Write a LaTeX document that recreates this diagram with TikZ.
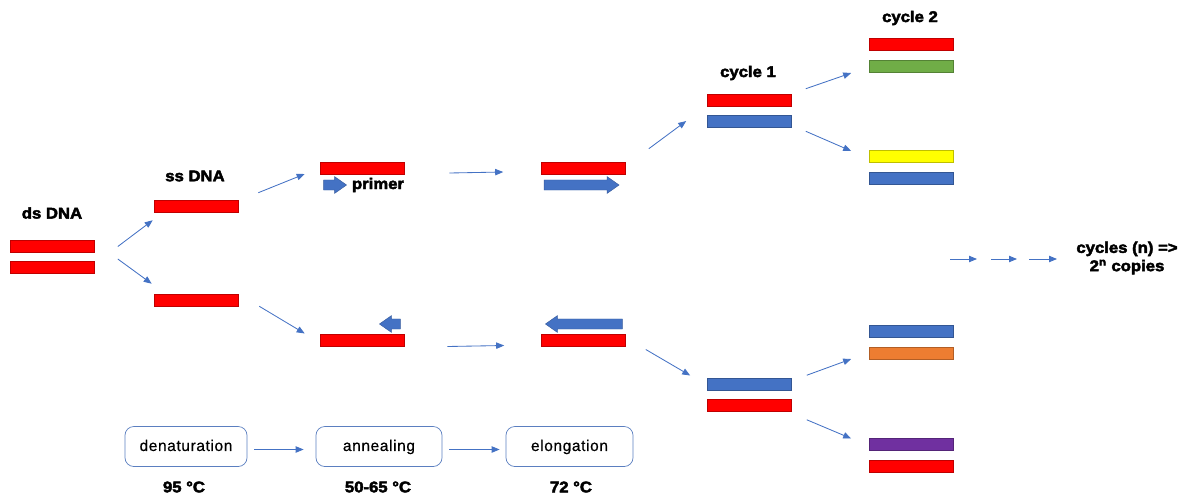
\documentclass[tikz,border=0pt]{standalone}
\usepackage{fontspec}
\setmainfont{Liberation Sans}
\newfontfamily\heavyfont[FakeBold=3,FakeStretch=1.08]{Liberation Sans Bold}
\newfontfamily\stepfont[LetterSpace=4,FakeBold=0.6]{Liberation Sans}
\usetikzlibrary{arrows.meta,shapes.arrows}

\definecolor{dnared}{HTML}{FF0000}
\definecolor{dnablue}{HTML}{4472C4}
\definecolor{dnagreen}{HTML}{70AD47}
\definecolor{dnayellow}{HTML}{FFFF00}
\definecolor{dnaorange}{HTML}{ED7D31}
\definecolor{dnapurple}{HTML}{7030A0}
\definecolor{stepline}{HTML}{5B7FC0}

\tikzset{
    bar/.style={draw=#1!75!black, fill=#1, line width=0.4pt, minimum width=2.1cm, minimum height=0.3cm, inner sep=0pt},
    strand/.style={single arrow, fill=dnablue, draw=dnablue!80!black, line width=0.3pt, inner xsep=0pt, inner ysep=0.12cm, single arrow head extend=0.085cm, single arrow tip angle=70, minimum height=#1},
    flow/.style={draw=dnablue, line width=0.6pt, -{Triangle[length=0.2cm,width=0.16cm]}},
    lbl/.style={font=\heavyfont\fontsize{11}{13}\selectfont, inner sep=0pt},
    stepbox/.style={draw=stepline, rounded corners=0.22cm, line width=0.5pt, minimum height=1.0cm, inner sep=0pt, text height=1.6ex, text depth=0.4ex, font=\stepfont\fontsize{11}{13}\selectfont}
}

\begin{document}
\begin{tikzpicture}[x=0.025cm, y=-0.025cm]
        \useasboundingbox (0,0) rectangle (1185,495);
        % double strand and single strands
        \node[bar=dnared] (dsA) at (52.5,246.5) {};
        \node[bar=dnared] (dsB) at (52.5,267) {};
        \node[lbl] (dsT) at (52,213) {ds DNA};
        \node[bar=dnared] (ssA) at (196,206) {};
        \node[bar=dnared] (ssB) at (196,300) {};
        \node[lbl] (ssT) at (195,176) {ss DNA};

        % annealing of primers
        \node[bar=dnared] (anA) at (362,168) {};
        \node[strand=0.575cm] (prA) at (331.5,185) {};
        \node[lbl] (prT) at (378,185) {primer};
        \node[bar=dnared] (anB) at (362,340.5) {};
        \node[strand=0.525cm, shape border rotate=180] (prB) at (393.5,324) {};

        % elongation
        \node[bar=dnared] (elA) at (583.5,168) {};
        \node[strand=1.875cm] (exA) at (578,185) {};
        \node[bar=dnared] (elB) at (583.5,340.5) {};
        \node[strand=1.925cm, shape border rotate=180] (exB) at (587.5,324) {};

        % cycle 1
        \node[lbl] (cyA) at (748,73) {cycle 1};
        \node[bar=dnared] (c1A) at (749.5,100) {};
        \node[bar=dnablue] (c1B) at (749.5,121) {};
        \node[bar=dnablue] (c1C) at (749.5,384.5) {};
        \node[bar=dnared] (c1D) at (749.5,405.5) {};

        % cycle 2
        \node[lbl] (cyB) at (910,18) {cycle 2};
        \foreach \nm/\yy/\col in {c2A/44.5/dnared, c2B/66/dnagreen, c2C/156/dnayellow, c2D/178/dnablue,
                                  c2E/331/dnablue, c2F/353/dnaorange, c2G/444.5/dnapurple, c2H/466/dnared}
        {
            \node[bar=\col] (\nm) at (911.5,\yy) {};
        }

        \node[lbl, align=center] (cyN) at (1127,258) {cycles (n) =>\\2\textsuperscript{n} copies};
        \coordinate (dots) at (950,259);
        \foreach \dx/\len in {0/27, 41/26, 79/28}
        {
            \draw[flow] ([shift={(\dx,0)}]dots) -- ++(\len,0);
        }

        % arrows between stages
        \draw[flow] ([shift={(23,0)}]dsA.east) -- ([shift={(-1,8)}]ssA.south west);
        \draw[flow] ([shift={(23,-8)}]dsB.east) -- ([shift={(-2,-10)}]ssB.north west);
        \draw[flow] ([shift={(20,-7)}]ssA.north east) -- ([shift={(-15,6)}]anA.west);
        \draw[flow] ([shift={(21,0)}]ssB.south east) -- ([shift={(-15,-7)}]anB.west);
        \draw[flow] ([shift={(45,5)}]anA.east) -- ([shift={(-38,4)}]elA.west);
        \draw[flow] ([shift={(43,6)}]anB.east) -- ([shift={(-37,5)}]elB.west);
        \draw[flow] ([shift={(23,-13)}]elA.north east) -- ([shift={(-21,0)}]c1B.west);
        \draw[flow] ([shift={(20,9)}]elB.east) -- ([shift={(-17,-9)}]c1C.west);
        \draw[flow] ([shift={(14,-5)}]c1A.north east) -- ([shift={(-18,7)}]c2B.west);
        \draw[flow] ([shift={(14,4)}]c1B.south east) -- ([shift={(-18,-5)}]c2C.west);
        \draw[flow] ([shift={(15,-3)}]c1C.north east) -- ([shift={(-18,6)}]c2F.west);
        \draw[flow] ([shift={(15,8)}]c1D.south east) -- ([shift={(-18,-6)}]c2G.west);

        % steps
        \node[stepbox, minimum width=3.05cm] (den) at (186,446.5) {denaturation};
        \node[stepbox, minimum width=3.15cm] (ann) at (379,446.5) {annealing};
        \node[stepbox, minimum width=3.175cm] (elo) at (569.5,446.5) {elongation};
        \draw[flow] ([shift={(7,3)}]den.east) -- ([shift={(-12,3)}]ann.west);
        \draw[flow] ([shift={(7,3)}]ann.east) -- ([shift={(-6,3)}]elo.west);
        \node[lbl] (tDen) at (184,487) {95 °C};
        \node[lbl] (tAnn) at (378,487) {50-65 °C};
        \node[lbl] (tElo) at (571,487) {72 °C};
    \end{tikzpicture}
\end{document}
